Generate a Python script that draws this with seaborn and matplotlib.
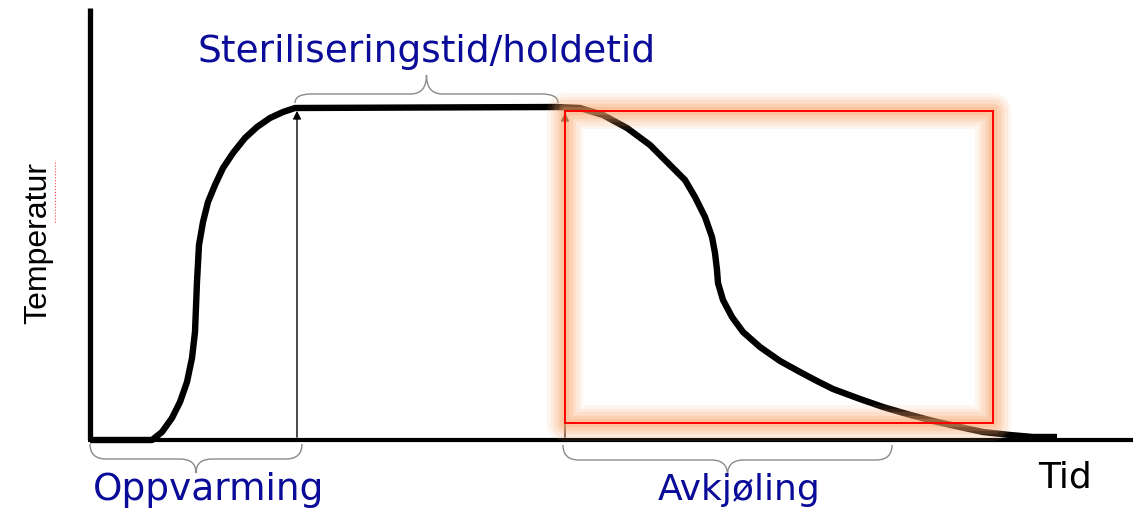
import matplotlib
matplotlib.use("Agg")
import matplotlib.pyplot as plt
import seaborn as sns
import pandas as pd
from matplotlib import font_manager
from matplotlib.path import Path
from matplotlib.patches import PathPatch, Rectangle

# temperaturkurve lest av bildet (tid, temperatur) i vilkaarlige enheter
tid = [0, 58, 62, 72, 82, 90, 97, 102, 105, 107, 107, 109, 113, 118, 125, 133, 143, 155, 167, 180, 193, 205,
       467, 490, 513, 537, 560, 580, 595, 605, 615, 622, 625, 627, 628, 633, 642, 653, 670, 690, 710, 727,
       743, 770, 793, 817, 843, 870, 893, 920, 943, 967]
temperatur = [0, 0, 0, 8, 22, 38, 58, 82, 108, 142, 175, 195, 218, 238, 255, 272, 287, 302, 313, 322, 328, 332,
              333, 332, 325, 312, 295, 275, 260, 243, 223, 203, 187, 170, 157, 140, 123, 108, 93, 79, 68, 59,
              51, 41, 33, 26, 19, 13, 8, 5, 3, 3]

faser = ["Oppvarming", "Steriliseringstid/holdetid", "Avkjøling"]
fase_start = [0, 205, 473]
fase_slutt = [212, 468, 802]

BLAA = "#0b0b99"


def klamme(ax, x0, x1, y0, h, d, q=16, retning=-1):
    # tegner en kroellparentes mellom x0 og x1
    m = (x1 - x0) / 2
    L = x1 - x0
    pts = [(0, 0), (0, h), (q, h), (m - q, h), (m, h), (m, d),
           (m, h), (m + q, h), (L - q, h), (L, h), (L, 0)]
    koder = [Path.MOVETO, Path.CURVE3, Path.CURVE3, Path.LINETO, Path.CURVE3, Path.CURVE3,
             Path.CURVE3, Path.CURVE3, Path.LINETO, Path.CURVE3, Path.CURVE3]
    verts = [(x0 + u, y0 + retning * v) for u, v in pts]
    ax.add_patch(PathPatch(Path(verts, koder), fill=False, edgecolor="#8a8a8a", lw=1.0, zorder=2))


sns.set_theme(style="white")
plt.rcParams["font.family"] = ["DejaVu Sans"]

navn = {f.name for f in font_manager.fontManager.ttflist}
smal = "Liberation Sans Narrow" if "Liberation Sans Narrow" in navn else "Liberation Sans"

fig = plt.figure(figsize=(11.45, 5.08), dpi=100)
ax = fig.add_axes([0, 0, 1, 1])
ax.set_xlim(-90, 1055)
ax.set_ylim(-68, 440)
ax.axis("off")

# akser
ax.plot([0, 0], [0, 432], color="black", lw=3.8, solid_capstyle="butt", zorder=3)
ax.plot([-2, 1043], [0, 0], color="black", lw=3.0, solid_capstyle="butt", zorder=3)

df = pd.DataFrame({"tid": tid, "temperatur": temperatur})
sns.lineplot(data=df, x="tid", y="temperatur", sort=False, color="black", lw=4.6,
             ax=ax, zorder=4, solid_joinstyle="round", solid_capstyle="butt")

# piler
ax.annotate("", xy=(fase_start[1] + 2, 332), xytext=(fase_start[1] + 2, 0),
            arrowprops=dict(arrowstyle="-|>", lw=1.0, color="black", mutation_scale=12), zorder=3)
ax.annotate("", xy=(fase_start[2] + 2, 330), xytext=(fase_start[2] + 2, 0),
            arrowprops=dict(arrowstyle="-|>", lw=1.0, color="#3a1a08", mutation_scale=12), zorder=3)

# rød ramme med glød
rx, ry, rw, rh = 475, 17, 428, 312
for lw, a in [(26, 0.10), (21, 0.13), (16, 0.17), (11, 0.22), (6, 0.28)]:
    ax.add_patch(Rectangle((rx, ry), rw, rh, fill=False, edgecolor="#fba46a",
                           alpha=a, lw=lw, joinstyle="round", zorder=5))
ax.add_patch(Rectangle((rx, ry), rw, rh, fill=False, edgecolor="#ff0000", lw=1.4, zorder=6))

# klammer
klamme(ax, fase_start[0], fase_slutt[0], -4, 15, 29, retning=-1)
klamme(ax, fase_start[1], fase_slutt[1], 337, 9, 28, retning=1)
klamme(ax, fase_start[2], fase_slutt[2], -5, 15, 30, retning=-1)

# tekst
ax.text(3, -60, faser[0], color=BLAA, fontsize=27, ha="left", va="baseline")
ax.text((fase_start[1] + fase_slutt[1]) / 2, 378, faser[1], color=BLAA, fontsize=27,
        ha="center", va="baseline")
ax.text(649, -60, faser[2], color=BLAA, fontsize=26, ha="center", va="baseline")
ax.text(975, -48, "Tid", color="black", fontsize=26, ha="center", va="baseline")
ax.text(-52, 197, "Temperatur", color="black", fontsize=29 if smal != "Liberation Sans" else 23,
        family=smal, rotation=90, ha="center", va="center")
ax.plot([-35, -35], [218, 280], color="#ff4040", lw=0.8, ls=":", zorder=2)

fig.savefig("out.png", dpi=100)
plt.close(fig)
